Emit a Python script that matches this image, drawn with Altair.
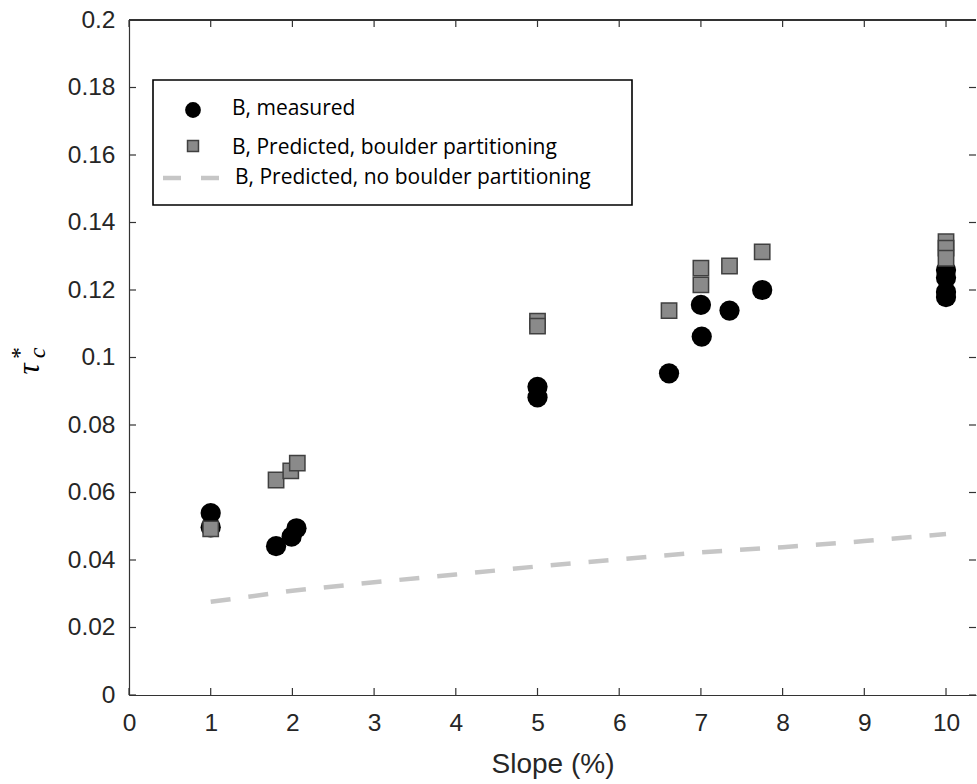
import altair as alt
import pandas as pd

# ---- data ----
meas_x = [1.0, 1.0, 1.80, 1.99, 2.05, 5.0, 5.0, 6.61, 7.0, 7.01, 7.35, 7.75, 10.0, 10.0, 10.0, 10.0]
meas_y = [0.0539, 0.0497, 0.0441, 0.0469, 0.0494, 0.0913, 0.0882, 0.0953, 0.1156, 0.1062, 0.1139, 0.1200,
          0.1259, 0.1236, 0.1194, 0.1179]

pred_x = [1.0, 1.80, 1.98, 2.06, 5.0, 5.0, 6.61, 7.0, 7.0, 7.35, 7.75, 10.0, 10.0, 10.0]
pred_y = [0.0492, 0.0637, 0.0664, 0.0687, 0.1108, 0.1093, 0.1139, 0.1265, 0.1215, 0.1271, 0.1313,
          0.1343, 0.1324, 0.1294]

nob_x = [1, 2, 3, 4, 5, 6, 7, 8, 9, 10]
nob_y = [0.0276, 0.0309, 0.0334, 0.0357, 0.0381, 0.0402, 0.0423, 0.0438, 0.0456, 0.0477]

x_ticks = [0, 1, 2, 3, 4, 5, 6, 7, 8, 9, 10]
y_ticks = [0, 0.02, 0.04, 0.06, 0.08, 0.1, 0.12, 0.14, 0.16, 0.18, 0.2]

legend_labels = ["B, measured", "B, Predicted, boulder partitioning", "B, Predicted, no boulder partitioning"]

# ---- layout ----
W, H = 847, 675
X_MAX = 10.367
AX = "#333333"
LBL = "#262626"

meas = pd.DataFrame({"x": meas_x, "y": meas_y})
pred = pd.DataFrame({"x": pred_x, "y": pred_y})
nob = pd.DataFrame({"x": nob_x, "y": nob_y})
xt = pd.DataFrame({"x": x_ticks})
yt = pd.DataFrame({"y": y_ticks})

xs = alt.Scale(domain=[0, X_MAX], nice=False, zero=False)
ys = alt.Scale(domain=[0, 0.2], nice=False, zero=False)

xaxis = alt.Axis(values=x_ticks, grid=False, ticks=False, domain=True, domainColor=AX, domainWidth=1.2,
                 labelFont="Liberation Sans", labelFontSize=24.5, labelColor=LBL, labelPadding=16,
                 labelFlush=False, labelOverlap=False, format="d",
                 titleFont="Liberation Sans", titleFontSize=28, titleFontWeight="normal", titleColor=LBL,
                 titleY=77, titleBaseline="alphabetic")
yaxis = alt.Axis(values=y_ticks, grid=False, ticks=False, domain=True, domainColor=AX, domainWidth=1.2,
                 labelFont="Liberation Sans", labelFontSize=24.5, labelColor=LBL, labelPadding=14,
                 labelOverlap=False, labelFlush=False, format=".2~f")


def X(f="x"):
    return alt.X(f + ":Q", scale=xs, axis=xaxis, title="Slope (%)")


def Y(f="y"):
    return alt.Y(f + ":Q", scale=ys, axis=yaxis, title=None)


line = alt.Chart(nob).mark_line(color="#c6c6c6", strokeWidth=4.5, strokeDash=[20, 18]).encode(x=X(), y=Y())
circles = alt.Chart(meas).mark_point(shape="circle", filled=True, color="black", size=410, opacity=1).encode(x=X(), y=Y())
squares = alt.Chart(pred).mark_point(shape="square", filled=True, fill="#8a8a8a", stroke="#404040",
                                     strokeWidth=1.5, size=235, opacity=1).encode(x=X(), y=Y())

# inward ticks on all four sides
tb = alt.Chart(xt).mark_rule(color=AX, strokeWidth=1.2).encode(x=X(), y=alt.value(H), y2=alt.value(H - 7))
tt = alt.Chart(xt).mark_rule(color=AX, strokeWidth=1.2).encode(x=X(), y=alt.value(0), y2=alt.value(7))
tl = alt.Chart(yt).mark_rule(color=AX, strokeWidth=1.2).encode(y=Y(), x=alt.value(0), x2=alt.value(7))
tr = alt.Chart(yt).mark_rule(color=AX, strokeWidth=1.2).encode(y=Y(), x=alt.value(W), x2=alt.value(W - 7))
top = alt.Chart(xt).mark_rule(color=AX, strokeWidth=1.2).encode(x=alt.value(0), x2=alt.value(W), y=alt.value(0))

# legend box
one = pd.DataFrame({"k": [0]})
box = alt.Chart(one).mark_rect(fill="white", stroke="black", strokeWidth=1.6).encode(
    x=alt.value(24), x2=alt.value(503), y=alt.value(60), y2=alt.value(185))
lg_c = alt.Chart(one).mark_point(shape="circle", filled=True, color="black", size=250, opacity=1).encode(
    x=alt.value(64), y=alt.value(90))
lg_s = alt.Chart(one).mark_point(shape="square", filled=True, fill="#8a8a8a", stroke="#404040",
                                 strokeWidth=1.5, size=120, opacity=1).encode(x=alt.value(64), y=alt.value(126))
lg_l = alt.Chart(one).mark_rule(color="#c6c6c6", strokeWidth=4.5, strokeDash=[18, 20]).encode(
    x=alt.value(34), x2=alt.value(92), y=alt.value(158))
lt = pd.DataFrame({"label": legend_labels, "px": [103, 103, 106], "py": [89, 128, 157.5]})
lg_t = alt.Chart(lt).mark_text(align="left", baseline="middle", font="Open Sans", fontSize=21, color="black").encode(
    x=alt.X("px:Q", scale=None), y=alt.Y("py:Q", scale=None), text="label:N")

# y-axis title: tau*_c
tau = alt.Chart(one).mark_text(text="τ", angle=270, align="center", baseline="middle", font="Liberation Serif",
                               fontStyle="italic", fontSize=31, color="black").encode(
    x=alt.value(-99), y=alt.value(349))
star = alt.Chart(one).mark_text(text="*", angle=270, align="center", baseline="middle", font="Liberation Serif",
                                fontSize=24, color="black").encode(x=alt.value(-109), y=alt.value(333))
csub = alt.Chart(one).mark_text(text="c", angle=270, align="center", baseline="middle", font="Liberation Serif",
                                fontStyle="italic", fontSize=24, color="black").encode(x=alt.value(-91), y=alt.value(333))

chart = alt.layer(line, circles, squares, tb, tt, tl, tr, top, box, lg_c, lg_s, lg_l, lg_t, tau, star, csub).properties(
    width=W, height=H,
    autosize=alt.AutoSizeParams(type="none"),
    padding={"left": 129, "top": 20, "right": 1, "bottom": 89},
    background="white",
).configure_view(stroke=None)

chart.save("out.html", embed_options={"renderer": "svg", "actions": False})
